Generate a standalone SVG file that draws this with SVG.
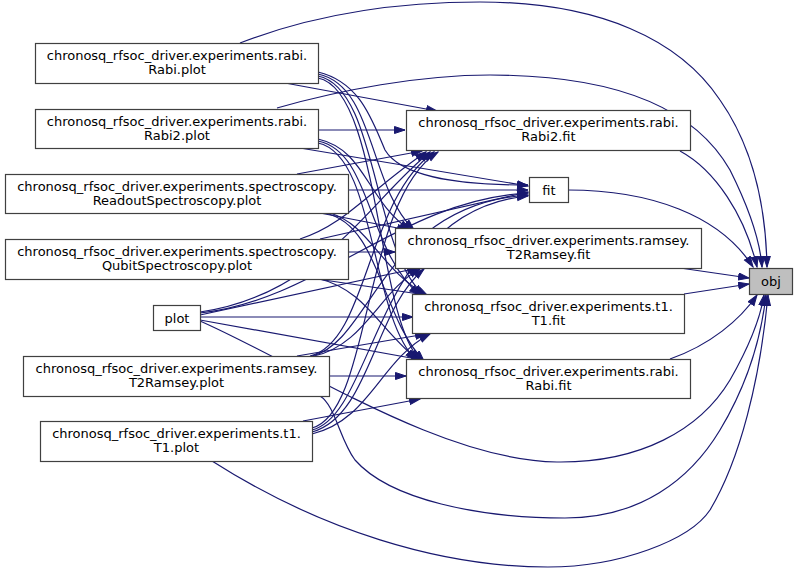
<svg xmlns="http://www.w3.org/2000/svg" width="797" height="574" viewBox="0 0 797 574">
<defs>
<style>
.n rect{fill:#ffffff;stroke:#404040;stroke-width:1.2}
.n text{font-family:"DejaVu Sans",sans-serif;font-size:13px;fill:#000;text-anchor:middle}
#obj rect{fill:#bfbfbf}
.e path{fill:none;stroke:#191970;stroke-width:1.2;marker-end:url(#ah)}
</style>
<marker id="ah" markerUnits="userSpaceOnUse" markerWidth="12" markerHeight="9" refX="11" refY="4" orient="auto">
<path d="M0.5,0.5 L11,4 L0.5,7.5 z" fill="#191970" stroke="#191970" stroke-width="1"/>
</marker>
</defs>
<rect width="797" height="574" fill="#ffffff"/>
<g class="e" id="edges">
<!-- left to obj -->
<path d="M240,43 C320,12 400,2 480,2 C600,2 680,40 720,100 C755,150 766,210 767,267"/>
<path d="M277,108 C340,90 420,75 490,75 C600,75 690,100 730,170 C750,210 760,240 762,267"/>
<path d="M200,321 C300,365 440,460 557,462 C640,463 700,430 730,380 C750,345 760,320 764,295"/>
<path d="M320,396 C335,405 340,440 355,460 C390,500 480,518 565,518 C640,518 690,480 720,430 C750,380 762,330 766,295"/>
<path d="M212,461 C320,530 440,567 548,567 C620,567 690,540 710,510 C740,460 760,380 768,295"/>
<!-- middle to obj -->
<path d="M680,151 C715,170 745,215 757,267"/>
<path d="M568,190 C650,190 720,215 753,267"/>
<path d="M680,268 L749,278"/>
<path d="M684,294 L749,284"/>
<path d="M670,359 C710,345 740,320 757,295"/>
<!-- L1 -->
<path d="M285,83 L437,111"/>
<path d="M318,72 C360,82 372,120 385,150 C400,175 450,185 528,185"/>
<path d="M318,74 C375,86 368,185 414,230"/>
<path d="M318,76 C378,88 372,250 424,295"/>
<path d="M318,78 C380,90 376,315 420,360"/>
<!-- L2 -->
<path d="M318,130 L405,130"/>
<path d="M300,148 L528,186"/>
<path d="M318,139 C366,150 366,200 410,230"/>
<path d="M318,141 C372,152 366,250 420,295"/>
<path d="M318,143 C376,155 370,315 416,360"/>
<!-- L3 -->
<path d="M297,174 L422,151"/>
<path d="M348,190 L528,190"/>
<path d="M320,213 L408,230"/>
<path d="M330,213 C370,225 380,270 428,296"/>
<path d="M325,213 C380,225 380,315 424,361"/>
<!-- L4 -->
<path d="M300,239 C345,225 370,190 426,152"/>
<path d="M320,239 L528,192"/>
<path d="M348,252 L395,252"/>
<path d="M317,279 L426,295"/>
<path d="M320,279 C365,290 380,330 418,360"/>
<!-- L5 -->
<path d="M200,312 C320,295 370,200 430,152"/>
<path d="M200,313 C320,300 400,200 528,193"/>
<path d="M200,315 L418,268"/>
<path d="M200,317 L413,317"/>
<path d="M200,320 L422,360"/>
<!-- L6 -->
<path d="M310,356 C368,342 366,200 434,152"/>
<path d="M312,356 C372,342 382,205 528,195"/>
<path d="M314,356 C365,345 380,290 420,269"/>
<path d="M297,356 L426,334"/>
<path d="M329,376 L406,376"/>
<!-- L7 -->
<path d="M312,428 C372,412 362,200 438,152"/>
<path d="M312,430 C376,414 374,210 528,196"/>
<path d="M312,432 C370,416 374,310 424,269"/>
<path d="M312,434 C370,420 380,360 430,334"/>
<path d="M303,421 L420,399"/>
</g>
<g class="n" id="rabi_plot"><rect x="35.5" y="43.5" width="283" height="40"/><text x="177" y="59.5">chronosq_rfsoc_driver.experiments.rabi.</text><text x="177" y="73.5">Rabi.plot</text></g>
<g class="n" id="rabi2_plot"><rect x="35.5" y="109.5" width="283" height="39"/><text x="177" y="125.5">chronosq_rfsoc_driver.experiments.rabi.</text><text x="177" y="139.5">Rabi2.plot</text></g>
<g class="n" id="readout_plot"><rect x="5.5" y="174.5" width="343" height="39"/><text x="177" y="190.5">chronosq_rfsoc_driver.experiments.spectroscopy.</text><text x="177" y="204.5">ReadoutSpectroscopy.plot</text></g>
<g class="n" id="qubit_plot"><rect x="5.5" y="239.5" width="343" height="40"/><text x="177" y="255.5">chronosq_rfsoc_driver.experiments.spectroscopy.</text><text x="177" y="269.5">QubitSpectroscopy.plot</text></g>
<g class="n" id="plot"><rect x="153.5" y="305.5" width="47" height="25"/><text x="177" y="323">plot</text></g>
<g class="n" id="t2ramsey_plot"><rect x="23.5" y="356.5" width="306" height="40"/><text x="176.5" y="372.5">chronosq_rfsoc_driver.experiments.ramsey.</text><text x="176.5" y="386.5">T2Ramsey.plot</text></g>
<g class="n" id="t1_plot"><rect x="40.5" y="421.5" width="272" height="40"/><text x="176.5" y="437.5">chronosq_rfsoc_driver.experiments.t1.</text><text x="176.5" y="451.5">T1.plot</text></g>
<g class="n" id="rabi2_fit"><rect x="406.5" y="110.5" width="284" height="40"/><text x="548.5" y="126.5">chronosq_rfsoc_driver.experiments.rabi.</text><text x="548.5" y="140.5">Rabi2.fit</text></g>
<g class="n" id="fit"><rect x="529.5" y="177.5" width="39" height="25"/><text x="549" y="195">fit</text></g>
<g class="n" id="t2ramsey_fit"><rect x="395.5" y="228.5" width="306" height="40"/><text x="548.5" y="244.5">chronosq_rfsoc_driver.experiments.ramsey.</text><text x="548.5" y="258.5">T2Ramsey.fit</text></g>
<g class="n" id="t1_fit"><rect x="412.5" y="294.5" width="272" height="39"/><text x="548.5" y="310.5">chronosq_rfsoc_driver.experiments.t1.</text><text x="548.5" y="324.5">T1.fit</text></g>
<g class="n" id="rabi_fit"><rect x="406.5" y="359.5" width="284" height="39"/><text x="548.5" y="375.5">chronosq_rfsoc_driver.experiments.rabi.</text><text x="548.5" y="389.5">Rabi.fit</text></g>
<g class="n" id="obj"><rect x="749.5" y="268.5" width="43" height="26"/><text x="771" y="286">obj</text></g>
</svg>
